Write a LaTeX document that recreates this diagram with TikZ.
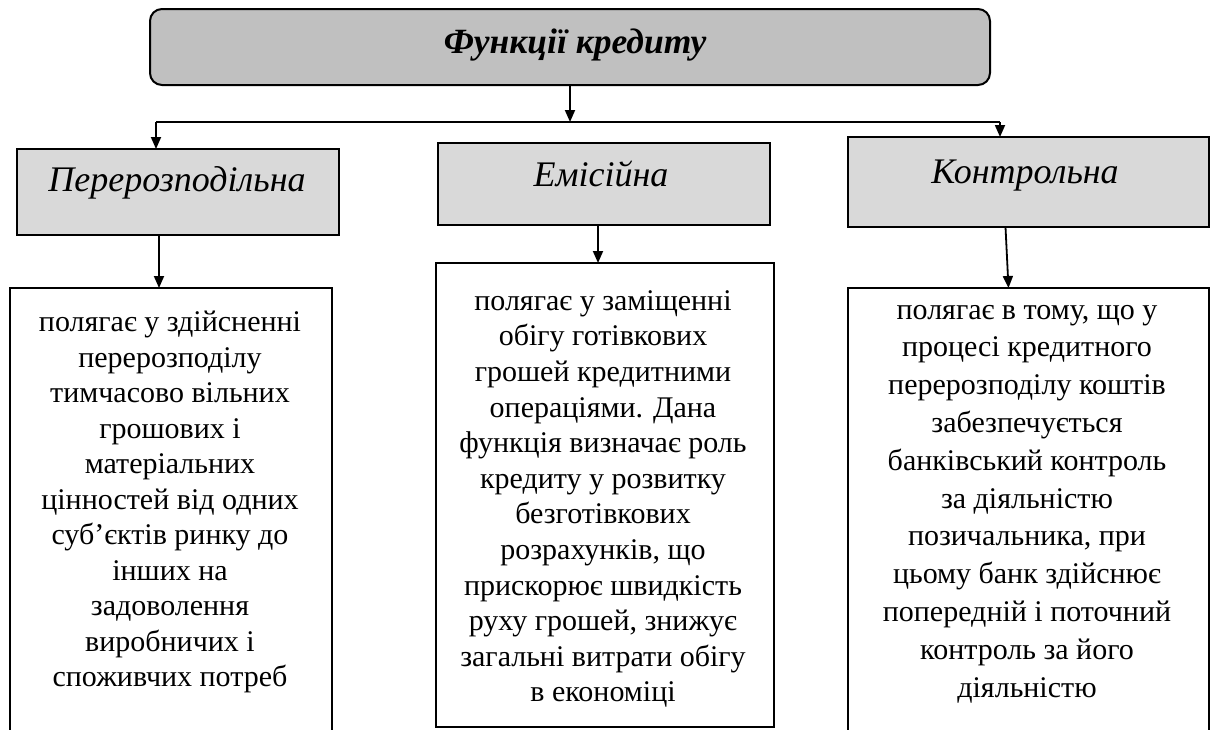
\documentclass[tikz,border=0pt]{standalone}
\usepackage{fontspec}
\setmainfont{Liberation Serif}
\usetikzlibrary{arrows.meta,calc}

\definecolor{topfill}{HTML}{C0C0C0}
\definecolor{headfill}{HTML}{D9D9D9}

\begin{document}
\begin{tikzpicture}[x=1pt,y=-1pt,
  every node/.style={inner sep=0pt, outer sep=0pt},
  topbox/.style={draw=black, line width=2pt, fill=topfill, rounded corners=12pt, anchor=north west},
  headbox/.style={draw=black, line width=2pt, fill=headfill, anchor=north west},
  descbox/.style={draw=black, line width=2pt, fill=white, anchor=north west},
  headtext/.style={font=\fontsize{36}{40}\selectfont\itshape},
  desctext/.style={align=center, font=\fontsize{30}{35.5}\selectfont},
  conn/.style={line width=1.8pt, -{Triangle[length=12pt,width=10pt]}},
  bus/.style={line width=1.8pt}]

\useasboundingbox (0,0) rectangle (1213,729);
\clip (0,0) rectangle (1213,729);

% title box
\node[topbox, minimum width=840pt, minimum height=76pt] (top) at (150,9) {};
\node[font=\fontsize{35.5}{38}\selectfont\bfseries\itshape] (toptext) at (575,45) {Функції кредиту};

% function headers
\node[headbox, minimum width=322pt, minimum height=86pt] (h1) at (17,149) {};
\node[headbox, minimum width=332pt, minimum height=82pt] (h2) at (438,143) {};
\node[headbox, minimum width=361pt, minimum height=90pt] (h3) at (848,137) {};
\node[headtext] (h1t) at (177,183) {Перерозподільна};
\node[headtext] (h2t) at (601,174) {Емісійна};
\node[headtext] (h3t) at (1025,176) {Контрольна};

% description boxes
\node[descbox, minimum width=322pt, minimum height=500pt] (d1) at (10,288) {};
\node[descbox, minimum width=338pt, minimum height=464pt] (d2) at (436,263) {};
\node[descbox, minimum width=361pt, minimum height=500pt] (d3) at (848,288) {};

\node[desctext] (d1t) at (170,502) {полягає у здійсненні\\перерозподілу\\тимчасово вільних\\грошових і\\матеріальних\\цінностей  від одних\\суб’єктів ринку до\\інших  на\\задоволення\\виробничих  і\\споживчих  потреб};
\node[desctext, font=\fontsize{30}{35.6}\selectfont] (d2t) at (603,499) {полягає у заміщенні\\обігу готівкових\\грошей кредитними\\операціями. Дана\\функція визначає роль\\кредиту у розвитку\\безготівкових\\розрахунків, що\\прискорює швидкість\\руху грошей, знижує\\загальні витрати обігу\\в економіці};
\node[desctext, font=\fontsize{30}{37.8}\selectfont] (d3t) at (1027,504) {полягає в тому, що у\\процесі  кредитного\\перерозподілу  коштів\\забезпечується\\банківський  контроль\\за діяльністю\\позичальника, при\\цьому банк здійснює\\попередній  і поточний\\контроль за його\\діяльністю};

% distribution bus
\coordinate (busL) at (156,122);
\coordinate (busR) at (1000,122);
\coordinate (busM) at (top.south |- busL);
\draw[conn] (top.south) -- (busM);
\draw[bus] (busL) -- (busR);
\draw[conn] (busL) -- (busL |- h1.north);
\draw[conn] (busR) -- (busR |- h3.north);

% header to description
\draw[conn] ([xshift=-19pt]h1.south) -- ([xshift=-12pt]d1.north);
\draw[conn] ([xshift=-6pt]h2.south) -- ([xshift=-7pt]d2.north);
\draw[conn] ([xshift=-23pt]h3.south) -- ([xshift=-20pt]d3.north);
\end{tikzpicture}
\end{document}
